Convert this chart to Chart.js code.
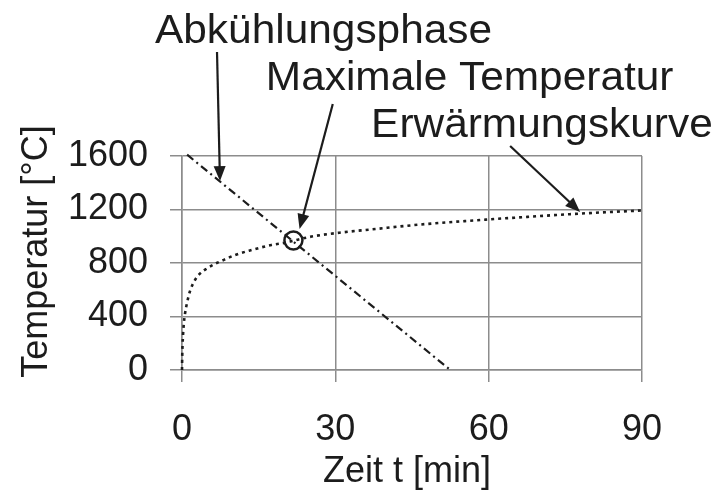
<!DOCTYPE html>
<html>
<head>
<meta charset="utf-8">
<script src="https://cdn.jsdelivr.net/npm/chart.js@4"></script>
<style>
  body { margin: 0; background: #fff; }
  canvas { display: block; }
</style>
</head>
<body>
<canvas id="grafico" width="722" height="493"></canvas>
<script>
// Erwärmungskurve (Zeit in min, Temperatur in °C)
var heatTime = [0, 0.04, 0.1, 0.2, 0.35, 0.6, 1.0, 1.53, 2.35, 3.45, 4.95, 6.7, 8.3, 10.4, 13.6, 17.5, 20.2, 21.8, 25.7, 31.6, 36.8, 46.7, 59.7, 67.6, 78.1, 90];
var heatTemp = [0, 100, 180, 262, 344, 424, 504, 585, 660, 718, 761, 798, 825, 860, 897, 935, 952, 967, 1000, 1030, 1050, 1088, 1125, 1145, 1170, 1193];

// Abkühlungsphase
var coolTime = [1, 52.5];
var coolTemp = [1610, 0];

// maximale Temperatur (Schnittpunkt)
var maxPoint = [21.8, 968];

var xTicks = [0, 30, 60, 90];
var yTicks = [0, 400, 800, 1200, 1600];

// Beschriftungen: Text, Textanker und Pfeil (Start -> Spitze), alles in Datenkoordinaten
var labelTexts = ["Abkühlungsphase", "Maximale Temperatur", "Erwärmungskurve"];
var labelAnchor = [[-5.28, 2445], [16.4, 2093], [37.0, 1742]];
var arrowFrom = [[6.85, 2378], [29.5, 1989], [64.2, 1675]];
var arrowTo = [[7.43, 1413], [23.0, 1054], [77.9, 1181]];

var ink = "#1c1c1c";
var gridGrey = "#8c8c8c";
Chart.defaults.font.family = "'Liberation Sans', Arial, sans-serif";

function pts(xs, ys) {
  return xs.map(function (v, i) { return { x: v, y: ys[i] }; });
}

function arrow(ctx, x1, y1, x2, y2) {
  var a = Math.atan2(y2 - y1, x2 - x1);
  var len = 15, half = 6;
  ctx.beginPath();
  ctx.moveTo(x1, y1);
  ctx.lineTo(x2 - Math.cos(a) * len * 0.8, y2 - Math.sin(a) * len * 0.8);
  ctx.stroke();
  ctx.beginPath();
  ctx.moveTo(x2, y2);
  ctx.lineTo(x2 - Math.cos(a) * len + Math.sin(a) * half, y2 - Math.sin(a) * len - Math.cos(a) * half);
  ctx.lineTo(x2 - Math.cos(a) * len - Math.sin(a) * half, y2 - Math.sin(a) * len + Math.cos(a) * half);
  ctx.closePath();
  ctx.fill();
}

var annotate = {
  id: "annotate",
  afterDraw: function (chart) {
    var ctx = chart.ctx;
    var sx = chart.scales.x, sy = chart.scales.y;
    var area = chart.chartArea;
    ctx.save();
    ctx.fillStyle = ink;
    ctx.strokeStyle = ink;

    // Achsentitel
    ctx.font = "36px 'Liberation Sans', Arial, sans-serif";
    ctx.textAlign = "center";
    ctx.textBaseline = "alphabetic";
    ctx.fillText("Zeit t [min]", (area.left + area.right) / 2 - 5, 482);
    ctx.save();
    ctx.translate(47, (area.top + area.bottom) / 2 - 11.5);
    ctx.rotate(-Math.PI / 2);
    ctx.fillText("Temperatur [°C]", 0, 0);
    ctx.restore();

    // Kreis um die maximale Temperatur
    ctx.lineWidth = 2.5;
    ctx.beginPath();
    ctx.arc(sx.getPixelForValue(maxPoint[0]), sy.getPixelForValue(maxPoint[1]), 9, 0, Math.PI * 2);
    ctx.stroke();

    // Pfeile
    ctx.lineWidth = 2.2;
    for (var i = 0; i < arrowFrom.length; i++) {
      arrow(ctx,
        sx.getPixelForValue(arrowFrom[i][0]), sy.getPixelForValue(arrowFrom[i][1]),
        sx.getPixelForValue(arrowTo[i][0]), sy.getPixelForValue(arrowTo[i][1]));
    }

    // Texte
    ctx.font = "40px 'Liberation Sans', Arial, sans-serif";
    ctx.textAlign = "left";
    for (var j = 0; j < labelTexts.length; j++) {
      ctx.save();
      ctx.translate(sx.getPixelForValue(labelAnchor[j][0]), sy.getPixelForValue(labelAnchor[j][1]));
      ctx.scale(1.06, 1);
      ctx.fillText(labelTexts[j], 0, 0);
      ctx.restore();
    }
    ctx.restore();
  }
};

var ctx = document.getElementById("grafico").getContext("2d");
var myChart = new Chart(ctx, {
  type: "line",
  data: {
    datasets: [
      {
        label: "Erwärmungskurve",
        data: pts(heatTime, heatTemp),
        borderColor: ink,
        borderWidth: 2.6,
        borderDash: [3, 4],
        pointRadius: 0,
        cubicInterpolationMode: "monotone",
        fill: false,
        clip: false,
      },
      {
        label: "Abkühlungsphase",
        data: pts(coolTime, coolTemp),
        borderColor: ink,
        borderWidth: 2.2,
        borderDash: [8, 4, 2, 4],
        pointRadius: 0,
        fill: false,
        clip: false,
      },
    ],
  },
  options: {
    responsive: false,
    animation: false,
    layout: { padding: { top: 156, right: 80, left: 0, bottom: 0 } },
    plugins: { legend: { display: false }, tooltip: { enabled: false } },
    scales: {
      x: {
        type: "linear",
        min: 0,
        max: 90,
        afterBuildTicks: function (s) { s.ticks = xTicks.map(function (v) { return { value: v }; }); },
        afterFit: function (s) { s.height = 123; },
        ticks: { color: ink, font: { size: 36 }, padding: 26, maxRotation: 0, callback: function (v) { return String(v); } },
        grid: { color: gridGrey, lineWidth: 1.5, tickLength: 12 },
        border: { color: gridGrey, width: 1.5 },
      },
      y: {
        type: "linear",
        min: 0,
        max: 1600,
        afterBuildTicks: function (s) { s.ticks = yTicks.map(function (v) { return { value: v }; }); },
        afterFit: function (s) { s.width = 182; },
        ticks: { color: ink, font: { size: 36 }, padding: 22, callback: function (v) { return String(v); } },
        grid: { color: gridGrey, lineWidth: 1.5, tickLength: 12 },
        border: { color: gridGrey, width: 1.5 },
      },
    },
  },
  plugins: [annotate],
});
</script>
</body>
</html>
